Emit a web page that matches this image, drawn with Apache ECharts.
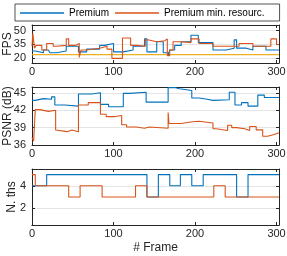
<!DOCTYPE html>
<html><head><meta charset="utf-8">
<script src="https://cdn.jsdelivr.net/npm/echarts@6/dist/echarts.min.js"></script>
<style>html,body{margin:0;padding:0;background:#fff}#c{width:287px;height:256px}</style>
</head><body><div id="c"></div>
<script>
// ---- data ----
const frameMax = 303;
const xTicks = [0, 100, 200, 300];
const seriesNames = ['Premium', 'Premium min. resourc.'];

// FPS panel
const fpsTicks = [20, 35, 50];
const fpsTarget = 24;
const premFpsFrames = [0, 4, 14, 20, 22, 30, 42, 57, 67, 83, 89, 100, 112, 124, 138, 141, 153, 161, 167, 169, 175, 183, 195, 204, 222, 238, 248, 251, 263, 271, 287, 303];
const premFpsVals   = [28, 26, 29, 30, 26, 28, 33, 27, 30, 34, 36, 27, 29, 33, 41, 27, 38, 26, 23, 29, 34, 38, 45, 37, 29, 31, 40, 31, 29, 33, 29, 29];
const minFpsFrames = [0, 1, 3, 5, 12, 18, 26, 30, 42, 45, 53, 58, 60, 67, 83, 92, 98, 111, 121, 128, 139, 142, 153, 163, 166, 169, 173, 183, 195, 205, 222, 238, 254, 271, 293, 300, 303];
const minFpsVals   = [33, 47, 31, 34, 29, 36, 33, 34, 41, 34, 36, 21, 29, 31, 33, 30, 20, 42, 34, 33, 40, 38, 39, 41, 23, 29, 38, 37, 41, 36, 33, 33, 36, 33, 41, 35, 35];

// PSNR panel
const psnrTicks = [36, 39, 42, 45];
const premPsnrFrames = [0, 4, 14, 24, 28, 40, 57, 73, 84, 94, 112, 120, 140, 167, 175, 181, 196, 205, 215, 222, 242, 249, 257, 265, 277, 285, 303];
const premPsnrVals   = [43.7, 44.0, 43.9, 44.3, 42.9, 42.7, 44.8, 45.0, 43.0, 42.6, 44.9, 45.1, 43.4, 45.9, 45.7, 45.4, 44.1, 43.9, 43.7, 43.8, 45.1, 42.9, 43.3, 42.7, 44.6, 44.2, 44.3];
const minPsnrFrames = [0, 2, 4, 10, 20, 29, 31, 43, 49, 57, 69, 84, 91, 102, 110, 116, 128, 138, 144, 167, 168, 183, 197, 205, 222, 226, 240, 245, 251, 261, 267, 275, 283, 289, 297, 303];
const minPsnrVals   = [37.3, 36.7, 42.1, 41.8, 42.0, 38.6, 38.3, 38.6, 38.3, 42.9, 43.3, 41.3, 40.9, 41.1, 39.5, 39.1, 38.9, 39.1, 38.9, 41.6, 39.7, 40.0, 40.1, 39.8, 38.8, 38.5, 39.4, 39.0, 38.8, 38.5, 39.2, 38.6, 37.5, 37.8, 38.1, 38.1];

// Threads panel
const thsTicks = [2, 4];
const premThsFrames = [0, 18, 141, 155, 169, 182, 196, 210, 251, 265, 303];
const premThsVals   = [4, 5, 3, 5, 4, 5, 4, 5, 3, 5, 5];
const minThsFrames = [0, 4, 45, 59, 86, 127, 141, 223, 237, 303];
const minThsVals   = [5, 4, 3, 4, 3, 4, 3, 4, 3, 3];

// ---- styling ----
const BLUE = '#0072BD', ORANGE = '#D95319', YELLOW = '#EDB120';
const AX = '#262626', TXT = '#262626', GRIDC = '#e4e4e4';
const FONT = 'Liberation Sans, Arial, Helvetica, sans-serif';

function pairs(f, v) { return f.map((x, i) => [x, v[i]]); }

function xAx(gi, pos, showLabel, name) {
  return {
    type: 'value', gridIndex: gi, position: pos, min: 0, max: frameMax,
    axisLine: { show: true, onZero: false, lineStyle: { color: AX, width: 1 } },
    axisTick: { show: true, inside: true, length: 3, customValues: xTicks, lineStyle: { color: AX } },
    axisLabel: { show: showLabel, customValues: xTicks, margin: 3, fontSize: 11, color: TXT, fontFamily: FONT },
    splitLine: { show: false },
    name: name || '', nameLocation: 'middle', nameGap: 17, nameMoveOverlap: false,
    nameTextStyle: { fontSize: 12, color: TXT, fontFamily: FONT }
  };
}
function yAx(gi, pos, min, max, ticks, showLabel, name, gap) {
  return {
    type: 'value', gridIndex: gi, position: pos, min: min, max: max,
    axisLine: { show: true, onZero: false, lineStyle: { color: AX, width: 1 } },
    axisTick: { show: true, inside: true, length: 3, customValues: ticks, lineStyle: { color: AX } },
    axisLabel: { show: showLabel, customValues: ticks, margin: 6, fontSize: 11, color: TXT, fontFamily: FONT },
    splitLine: { show: showLabel, lineStyle: { color: GRIDC, width: 1 } },
    name: name || '', nameLocation: 'middle', nameGap: gap || 18, nameRotate: 90, nameMoveOverlap: false,
    nameTextStyle: { fontSize: 12, color: TXT, fontFamily: FONT }
  };
}
function line(name, gi, data, color, z) {
  return {
    name: name, type: 'line', xAxisIndex: gi * 2, yAxisIndex: gi * 2,
    data: data, step: 'end', symbol: 'none', showSymbol: false,
    lineStyle: { color: color, width: 1.1 }, itemStyle: { color: color },
    z: z || 2, animation: false
  };
}
function gridAt(top, height) {
  return { left: 32, right: 8, top: top, height: height, containLabel: false, outerBoundsMode: 'none' };
}

const chart = echarts.init(document.getElementById('c'), null, { renderer: 'canvas' });
chart.setOption({
  animation: false,
  textStyle: { fontFamily: FONT },
  legend: {
    data: seriesNames, left: 15, top: 4, icon: 'rect',
    itemWidth: 44, itemHeight: 1.3, itemGap: 6,
    padding: [3, 15, 2, 5],
    borderColor: AX, borderWidth: 0.8,
    textStyle: { fontSize: 10, color: '#000', fontFamily: FONT, lineHeight: 12 }
  },
  grid: [gridAt(25, 38), gridAt(87, 58), gridAt(169, 56)],
  xAxis: [
    xAx(0, 'bottom', true), xAx(0, 'top', false),
    xAx(1, 'bottom', true), xAx(1, 'top', false),
    xAx(2, 'bottom', true, '# Frame'), xAx(2, 'top', false)
  ],
  yAxis: [
    yAx(0, 'left', 15, 56, fpsTicks, true, 'FPS', 18), yAx(0, 'right', 15, 56, fpsTicks, false),
    yAx(1, 'left', 36, 46, psnrTicks, true, 'PSNR (dB)', 18), yAx(1, 'right', 36, 46, psnrTicks, false),
    yAx(2, 'left', 0.5, 5.5, thsTicks, true, 'N. ths', 14), yAx(2, 'right', 0.5, 5.5, thsTicks, false)
  ],
  series: [
    {
      name: 'Target', type: 'line', xAxisIndex: 0, yAxisIndex: 0,
      data: [[0, fpsTarget], [frameMax, fpsTarget]], symbol: 'none',
      lineStyle: { color: YELLOW, width: 1.1 }, z: 1
    },
    line(seriesNames[0], 0, pairs(premFpsFrames, premFpsVals), BLUE),
    line(seriesNames[1], 0, pairs(minFpsFrames, minFpsVals), ORANGE, 3),
    line(seriesNames[0], 1, pairs(premPsnrFrames, premPsnrVals), BLUE),
    line(seriesNames[1], 1, pairs(minPsnrFrames, minPsnrVals), ORANGE, 3),
    line(seriesNames[0], 2, pairs(premThsFrames, premThsVals), BLUE),
    line(seriesNames[1], 2, pairs(minThsFrames, minThsVals), ORANGE, 3)
  ]
});
</script></body></html>
